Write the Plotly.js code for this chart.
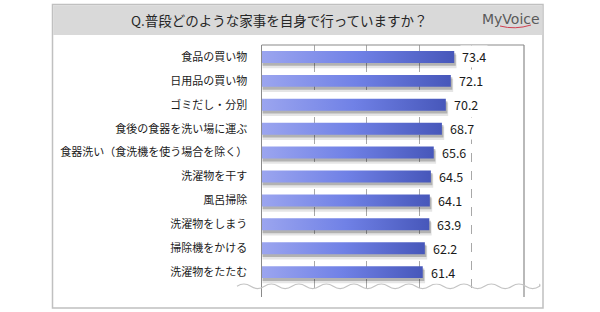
<!DOCTYPE html>
<html><head><meta charset="utf-8">
<script src="https://cdn.plot.ly/plotly-3.0.1.min.js"></script>
<style>html,body{margin:0;padding:0;background:#fff}</style>
</head><body>
<div id="chart" style="width:600px;height:312px"></div>
<script>
const categories = ["食品の買い物","日用品の買い物","ゴミだし・分別","食後の食器を洗い場に運ぶ","食器洗い（食洗機を使う場合を除く）","洗濯物を干す","風呂掃除","洗濯物をしまう","掃除機をかける","洗濯物をたたむ"];
const values = [73.4,72.1,70.2,68.7,65.6,64.5,64.1,63.9,62.2,61.4];
const valueLabels = values.map(v => v.toFixed(1));
const chartTitle = "Q.普段どのような家事を自身で行っていますか？";
const logoText = "MyVoice";

const W = 600, H = 312;
const px = x => x / W;
const py = y => 1 - y / H;
const JP = '"Noto Sans CJK JP", "Noto Sans", sans-serif';

const half = 0.25;
const traces = [];
categories.forEach((c, i) => {
  const v = values[i];
  // soft shadows
  [[0.9, 0.16, 0.06, 'rgba(0,0,0,0.10)'], [0.6, 0.10, 0.02, 'rgba(0,0,0,0.22)']].forEach(([dx, dy, grow, col]) => {
    traces.push({
      type: 'scatter', mode: 'lines', hoverinfo: 'skip', showlegend: false,
      x: [0.3, v + dx, v + dx, 0.3, 0.3],
      y: [i - half + dy, i - half + dy, i + half + dy + grow, i + half + dy + grow, i - half + dy],
      fill: 'toself', fillcolor: col, line: {width: 0}
    });
  });
  traces.push({
    type: 'scatter', mode: 'lines', name: c, showlegend: false,
    x: [0, v, v, 0, 0],
    y: [i - half, i - half, i + half, i + half, i - half],
    fill: 'toself', line: {width: 0},
    fillcolor: '#6c7de4',
    fillgradient: {type: 'horizontal', colorscale: [[0, '#9ba5ef'], [0.5, '#7081e6'], [1, '#4757ba']]}
  });
});

// wavy break line
const wy = 286.3, period = 27.5, amp = 2.3, wx0 = 237, wx1 = 540;
let wave = `M ${px(wx0)},${py(wy)}`;
let k = 0;
for (let x = wx0; x < wx1; x += period / 2, k++) {
  const dir = k % 2 === 0 ? -1 : 1;
  const x2 = Math.min(x + period / 2, wx1);
  wave += ` Q ${px((x + x2) / 2)},${py(wy + dir * amp * 2)} ${px(x2)},${py(wy)}`;
}

const annotations = [
  {text: chartTitle, xref: 'paper', yref: 'paper', x: px(279), y: py(19.5), xanchor: 'center', yanchor: 'middle',
   showarrow: false, font: {family: JP, size: 13.5, color: '#262626'}},
  {text: logoText, xref: 'paper', yref: 'paper', x: px(511), y: py(18.5), xanchor: 'center', yanchor: 'middle',
   showarrow: false, font: {family: '"DejaVu Sans", sans-serif', size: 14, color: '#5a5a5a'}}
];
values.forEach((v, i) => annotations.push({
  text: valueLabels[i], xref: 'x', yref: 'y', x: v, y: i, xanchor: 'left', yanchor: 'middle',
  xshift: 6, showarrow: false, bgcolor: '#ffffff', borderpad: 1,
  font: {family: JP, size: 12.5, color: '#1a1a1a'}
}));

const shapes = [
  {type: 'rect', xref: 'paper', yref: 'paper', x0: px(52.5), x1: px(543), y0: py(308), y1: py(4.5),
   line: {color: '#c0c0c0', width: 1.5}, fillcolor: 'rgba(0,0,0,0)', layer: 'below'},
  {type: 'rect', xref: 'paper', yref: 'paper', x0: px(53.2), x1: px(542.3), y0: py(35), y1: py(5.2),
   line: {width: 0}, fillcolor: '#d9d9d9', layer: 'below'},
  {type: 'line', xref: 'x domain', yref: 'y domain', x0: 0, x1: 1, y0: 1, y1: 1, line: {color: '#8a8a8a', width: 1.2}},
  {type: 'line', xref: 'x domain', yref: 'y domain', x0: 1, x1: 1, y0: 0, y1: 1, line: {color: '#8a8a8a', width: 1.2}},
  {type: 'path', xref: 'paper', yref: 'paper', path: wave, line: {color: '#c4c4c4', width: 1.2}},
  {type: 'path', xref: 'paper', yref: 'paper',
   path: `M ${px(500)},${py(26)} Q ${px(515)},${py(30)} ${px(531)},${py(25)}`,
   line: {color: '#d04050', width: 1}}
];

const layout = {
  width: W, height: H,
  margin: {l: 0, r: 0, t: 0, b: 0},
  paper_bgcolor: '#ffffff', plot_bgcolor: '#ffffff',
  showlegend: false,
  xaxis: {domain: [px(261.7), px(524)], range: [0, 100], dtick: 20, showgrid: true,
          gridcolor: '#a8a8a8', griddash: 'dash', gridwidth: 1, showticklabels: false,
          zeroline: false, showline: false, fixedrange: true},
  yaxis: {domain: [py(297), py(45)], range: [10.04, -0.5], tickmode: 'array',
          tickvals: categories.map((c, i) => i), ticktext: categories,
          showgrid: false, zeroline: false, showline: true, linecolor: '#8a8a8a', linewidth: 1.2,
          ticks: '', ticklabelstandoff: 11,
          tickfont: {family: JP, size: 11, color: '#1a1a1a'}, fixedrange: true},
  shapes: shapes,
  annotations: annotations
};

Plotly.newPlot('chart', traces, layout, {displayModeBar: false, staticPlot: true});
</script>
</body></html>
